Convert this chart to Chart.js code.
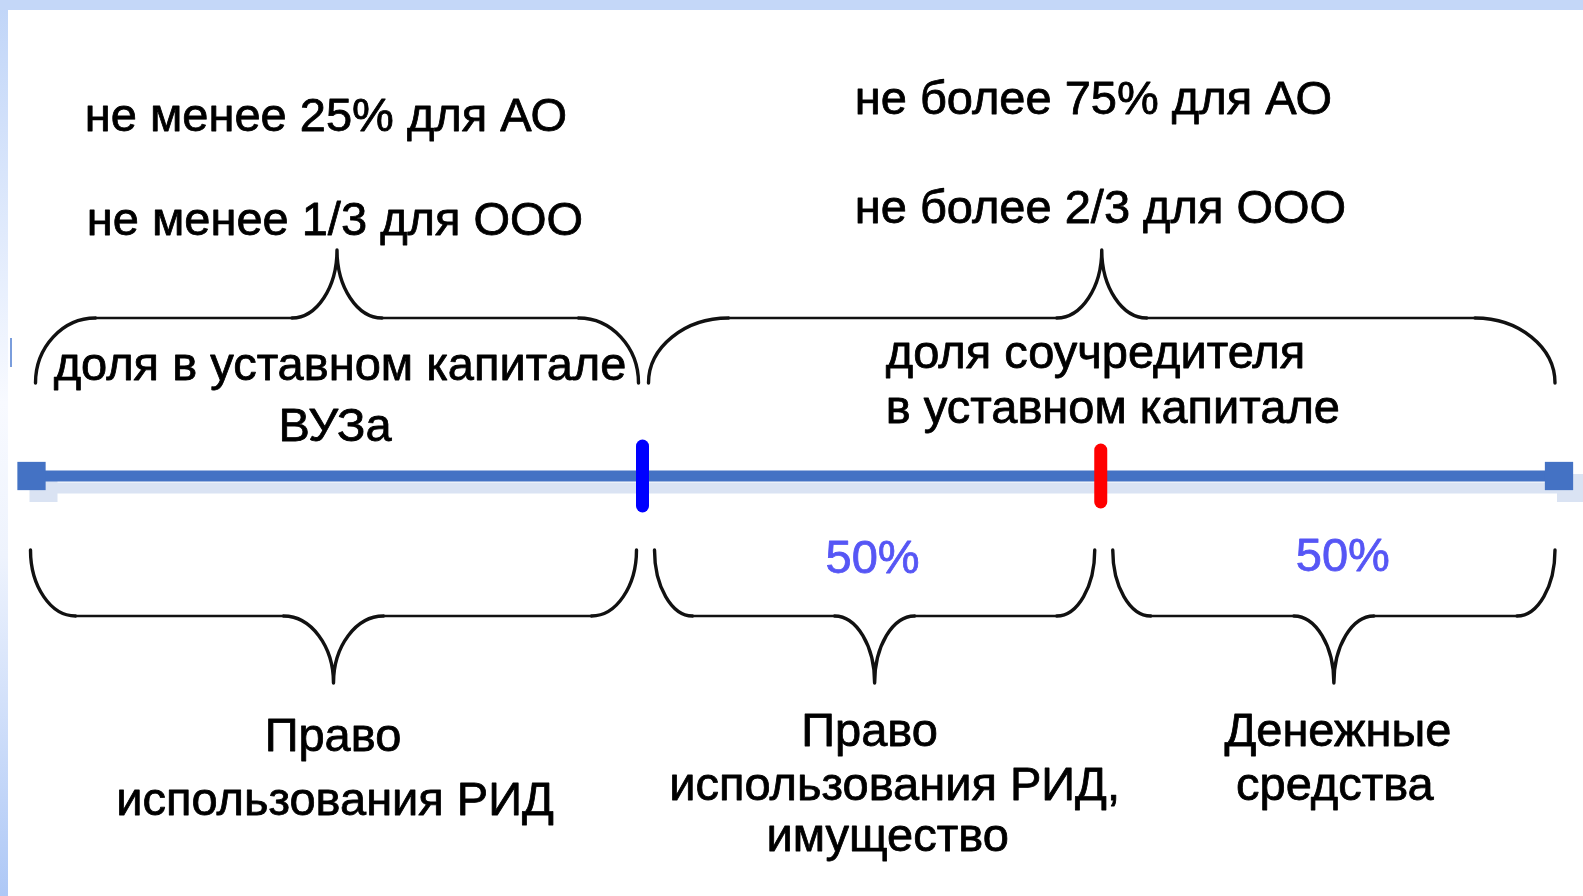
<!DOCTYPE html>
<html lang="ru">
<head>
<meta charset="utf-8">
<title>Доли в уставном капитале</title>
<script src="https://cdn.jsdelivr.net/npm/chart.js@4.4.1/dist/chart.umd.min.js"></script>
<style>
  html, body { margin: 0; padding: 0; background: #fff; overflow: hidden; }
</style>
</head>
<body>
<canvas id="shareChart" width="1583" height="896"></canvas>
<script>
// Шкала долей, %
const scaleMarks = [0, 100];
const boundaryMarks = [40, 70];
const boundaryColors = ['#0000ff', '#ff0000'];

// Скобки над шкалой и под ней (от, до)
const upperSpans = [[0, 40], [40, 100]];
const lowerSpans = [[0, 40], [40, 70], [70, 100]];

// Подписи
const upperLimits = [
    ['не менее 25% для АО', 'не менее 1/3 для ООО'],
    ['не более 75% для АО', 'не более 2/3 для ООО']
];
const upperNames = [
    ['доля в уставном капитале', 'ВУЗа'],
    ['доля соучредителя', 'в уставном капитале']
];
const lowerShares = ['', '50%', '50%'];
const lowerNames = [
    ['Право', 'использования РИД'],
    ['Право', 'использования РИД,', 'имущество'],
    ['Денежные', 'средства']
];

// ---- оформление (пиксели относительно оси) ----
const FONT = '47px "Liberation Sans", Arial, sans-serif';
const upperBrace = { end: 93, mid: 158, tip: 226 };
const lowerBrace = { end: -74, mid: -140, tip: -207 };
const upperBraceStyle = [
    { inset: [4, 4], endR: 60, tipR: 45 },
    { inset: [6, 4], endR: 80, tipR: 45 }
];
const lowerBraceStyle = [
    { inset: [-1, 6], endR: 45, tipR: 50 },
    { inset: [12, 6], endR: 38, tipR: 40 },
    { inset: [12, 4], endR: 38, tipR: 40 }
];
// [dx от середины участка, y над осью]
const upperLimitPos = [
    { align: 'center', lines: [[-11, 345], [-2, 241]] },
    { align: 'left', lines: [[-246, 362], [-246, 253]] }
];
const upperNamePos = [
    { align: 'center', lines: [[3, 96], [-2, 35]] },
    { align: 'left', lines: [[-215, 108], [-215, 53]] }
];
const lowerSharePos = [[0, -97], [1, -97], [13, -95]];
const lowerNamePos = [
    [[-4, -275], [-2, -339]],
    [[-2, -270], [23, -324], [16, -375]],
    [[8, -270], [5, -324]]
];

function drawBrace(ctx, x0, x1, y0, g, st) {
    const k = 0.55;
    const tipX = (x0 + x1) / 2;
    const yEnd = y0 - g.end, yMid = y0 - g.mid, yTip = y0 - g.tip;
    ctx.strokeStyle = '#111';
    ctx.lineCap = 'round';
    ctx.lineWidth = 3.4;
    ctx.beginPath();
    ctx.moveTo(x0, yEnd);
    ctx.bezierCurveTo(x0, yEnd + k * (yMid - yEnd), x0 + st.endR * (1 - k), yMid, x0 + st.endR, yMid);
    ctx.moveTo(x1, yEnd);
    ctx.bezierCurveTo(x1, yEnd + k * (yMid - yEnd), x1 - st.endR * (1 - k), yMid, x1 - st.endR, yMid);
    ctx.moveTo(tipX - st.tipR, yMid);
    ctx.bezierCurveTo(tipX - st.tipR * (1 - k), yMid, tipX, yTip - k * (yTip - yMid), tipX, yTip);
    ctx.moveTo(tipX + st.tipR, yMid);
    ctx.bezierCurveTo(tipX + st.tipR * (1 - k), yMid, tipX, yTip - k * (yTip - yMid), tipX, yTip);
    ctx.stroke();
    ctx.lineWidth = 2.4;
    ctx.beginPath();
    ctx.moveTo(x0 + st.endR, yMid);
    ctx.lineTo(tipX - st.tipR, yMid);
    ctx.moveTo(tipX + st.tipR, yMid);
    ctx.lineTo(x1 - st.endR, yMid);
    ctx.stroke();
}

// фон слайда
const slideBackground = {
    id: 'slideBackground',
    beforeDraw(chart) {
        const ctx = chart.ctx;
        const w = chart.width, h = chart.height;
        ctx.save();
        ctx.fillStyle = '#ffffff';
        ctx.fillRect(0, 0, w, h);
        const g = ctx.createLinearGradient(0, 0, 0, h);
        g.addColorStop(0, '#c0d5f8');
        g.addColorStop(0.45, '#f8faff');
        g.addColorStop(0.62, '#eef3fd');
        g.addColorStop(1, '#aec8f6');
        ctx.fillStyle = g;
        ctx.fillRect(0, 0, 8, h);
        ctx.fillStyle = '#c4d7f8';
        ctx.fillRect(0, 0, w, 10);
        ctx.fillStyle = '#7a9ddc';
        ctx.fillRect(10, 338, 2, 29);
        ctx.restore();
    },
    // тень шкалы
    beforeDatasetsDraw(chart) {
        const ctx = chart.ctx;
        const pts = chart.getDatasetMeta(0).data;
        if (pts.length < 2) return;
        ctx.save();
        ctx.fillStyle = '#dae3f3';
        const dx = 12, dy = 12, lw = 11, s = 28;
        ctx.fillRect(pts[0].x + dx, pts[0].y - lw / 2 + dy, pts[1].x - pts[0].x, lw);
        pts.forEach(p => ctx.fillRect(p.x - s / 2 + dx, p.y - s / 2 + dy, s, s));
        ctx.restore();
    },
    beforeDatasetDraw(chart) {
        chart.ctx.save();
        chart.ctx.lineCap = 'round';
    },
    afterDatasetDraw(chart) {
        chart.ctx.restore();
    }
};

// скобки и подписи
const braceLabels = {
    id: 'braceLabels',
    afterDatasetsDraw(chart) {
        const ctx = chart.ctx;
        const xs = chart.scales.x;
        const y0 = chart.scales.y.getPixelForValue(0);
        const px = v => xs.getPixelForValue(v);
        ctx.save();
        upperSpans.forEach((sp, i) => {
            const st = upperBraceStyle[i];
            drawBrace(ctx, px(sp[0]) + st.inset[0], px(sp[1]) - st.inset[1], y0, upperBrace, st);
        });
        lowerSpans.forEach((sp, i) => {
            const st = lowerBraceStyle[i];
            drawBrace(ctx, px(sp[0]) + st.inset[0], px(sp[1]) - st.inset[1], y0, lowerBrace, st);
        });

        ctx.font = FONT;
        ctx.textBaseline = 'alphabetic';
        ctx.lineWidth = 0.8;
        ctx.lineJoin = 'round';
        const block = (texts, pos, sp, color) => {
            const mid = (px(sp[0]) + px(sp[1])) / 2;
            ctx.textAlign = pos.align;
            ctx.fillStyle = color;
            ctx.strokeStyle = color;
            texts.forEach((t, j) => {
                const x = mid + pos.lines[j][0], y = y0 - pos.lines[j][1];
                ctx.fillText(t, x, y);
                ctx.strokeText(t, x, y);
            });
        };
        upperSpans.forEach((sp, i) => {
            block(upperLimits[i], upperLimitPos[i], sp, '#000');
            block(upperNames[i], upperNamePos[i], sp, '#000');
        });
        lowerSpans.forEach((sp, i) => {
            block(lowerNames[i], { align: 'center', lines: lowerNamePos[i] }, sp, '#000');
            if (lowerShares[i]) {
                block([lowerShares[i]], { align: 'center', lines: [lowerSharePos[i]] }, sp, '#5656f5');
            }
        });
        ctx.restore();
    }
};

new Chart(document.getElementById('shareChart'), {
    type: 'line',
    data: {
        datasets: [{
            label: 'Шкала',
            data: scaleMarks.map(v => ({ x: v, y: 0 })),
            borderColor: '#4472c4',
            borderWidth: 11,
            borderCapStyle: 'butt',
            pointStyle: 'rect',
            pointRadius: 20,
            pointBackgroundColor: '#4472c4',
            pointBorderWidth: 0,
            clip: false,
            order: 1
        }, {
            label: 'Границы',
            data: boundaryMarks.map(v => ({ x: v, y: 0 })),
            showLine: false,
            pointStyle: 'line',
            pointRotation: 90,
            pointRadius: [30, 26],
            pointBorderColor: boundaryColors,
            pointBorderWidth: 13,
            clip: false,
            order: 0
        }]
    },
    options: {
        responsive: false,
        animation: false,
        events: [],
        layout: {
            autoPadding: false,
            padding: { left: 31.5, right: 24, top: 0, bottom: 0 }
        },
        plugins: {
            legend: { display: false },
            tooltip: { enabled: false }
        },
        scales: {
            x: { type: 'linear', min: 0, max: 100, display: false },
            y: { type: 'linear', min: -420, max: 476, display: false }
        }
    },
    plugins: [slideBackground, braceLabels]
});
</script>
</body>
</html>
